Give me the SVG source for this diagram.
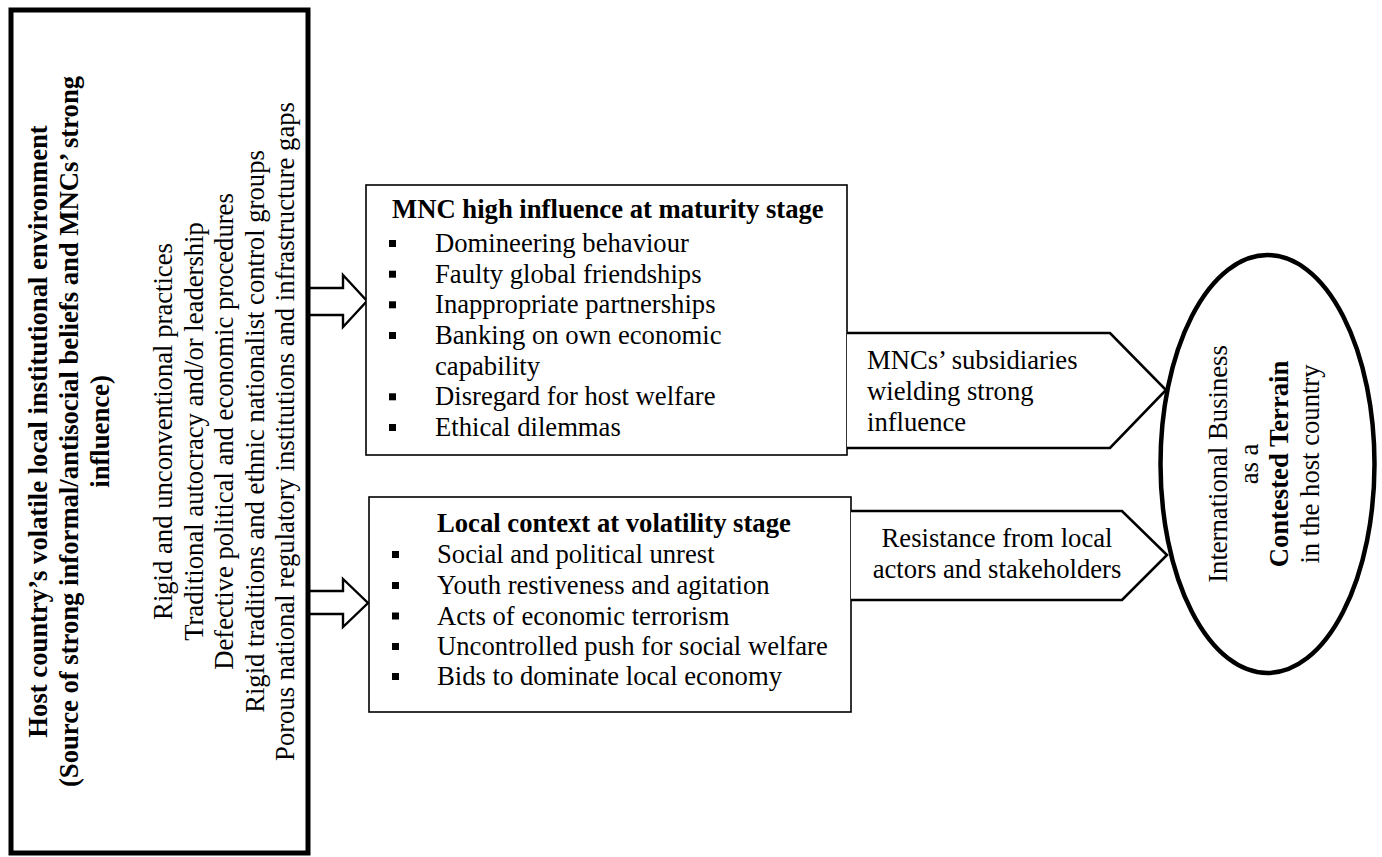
<svg xmlns="http://www.w3.org/2000/svg" xmlns:xlink="http://www.w3.org/1999/xlink" width="1382" height="857" viewBox="0 0 1382 857">
<style>
text{font-family:"Liberation Serif","Times New Roman",serif;font-size:26.67px;fill:#000}
.b{font-weight:bold}
.m{text-anchor:middle}
.box{fill:#fff;stroke:#000;stroke-width:1.6}
.pent{fill:#fff;stroke:#000;stroke-width:2.6}
.arr{fill:#fff;stroke:#000;stroke-width:2.4;stroke-linejoin:miter}
</style>
<defs>
<rect id="bul" width="7" height="7" fill="#000"/>
</defs>
<rect width="1382" height="857" fill="#fff"/>

<g id="connectors">
<path class="arr" d="M310,288 H343 V275 L367,301 L343,327 V315 H310"/>
<path class="arr" d="M310,591 H343 V579 L368,603 L343,627 V614 H310"/>
</g>

<g id="node-host">
<rect x="11" y="10" width="297" height="843" fill="#fff" stroke="#000" stroke-width="5"/>
<g transform="translate(0,431.5) rotate(-90)">
<text class="b m" x="0" y="47">Host country’s volatile local institutional environment</text>
<text class="b m" x="0" y="78">(Source of strong informal/antisocial beliefs and MNCs’ strong</text>
<text class="b m" x="0" y="109">influence)</text>
<text class="m" x="0" y="172">Rigid and unconventional practices</text>
<text class="m" x="0" y="202.5">Traditional autocracy and/or leadership</text>
<text class="m" x="0" y="233">Defective political and economic procedures</text>
<text class="m" x="0" y="263.5">Rigid traditions and ethnic nationalist control groups</text>
<text class="m" x="0" y="294">Porous national regulatory institutions and infrastructure gaps</text>
</g>
</g>

<g id="node-mnc">
<rect class="box" x="366" y="185" width="481" height="270"/>
<text class="b" x="392" y="218">MNC high influence at maturity stage</text>
<use xlink:href="#bul" x="389" y="240"/>
<text x="435" y="252">Domineering behaviour</text>
<use xlink:href="#bul" x="389" y="270.7"/>
<text x="435" y="282.7">Faulty global friendships</text>
<use xlink:href="#bul" x="389" y="301.3"/>
<text x="435" y="313.3">Inappropriate partnerships</text>
<use xlink:href="#bul" x="389" y="332"/>
<text x="435" y="344">Banking on own economic</text>
<text x="435" y="374.7">capability</text>
<use xlink:href="#bul" x="389" y="393.3"/>
<text x="435" y="405.3">Disregard for host welfare</text>
<use xlink:href="#bul" x="389" y="424"/>
<text x="435" y="436">Ethical dilemmas</text>
</g>

<g id="node-local">
<rect class="box" x="369" y="497" width="482" height="215"/>
<text class="b" x="437" y="532">Local context at volatility stage</text>
<use xlink:href="#bul" x="392" y="551"/>
<text x="437" y="563">Social and political unrest</text>
<use xlink:href="#bul" x="392" y="582"/>
<text x="437" y="594">Youth restiveness and agitation</text>
<use xlink:href="#bul" x="392" y="612.5"/>
<text x="437" y="624.5">Acts of economic terrorism</text>
<use xlink:href="#bul" x="392" y="643"/>
<text x="437" y="655">Uncontrolled push for social welfare</text>
<use xlink:href="#bul" x="392" y="673"/>
<text x="437" y="685">Bids to dominate local economy</text>
</g>

<g id="node-subsidiaries">
<path class="pent" d="M847,333 H1110 L1166,390 L1110,448 H847"/>
<text x="867" y="369">MNCs’ subsidiaries</text>
<text x="867" y="400">wielding strong</text>
<text x="867" y="430.5">influence</text>
</g>

<g id="node-resistance">
<path class="pent" d="M851,511 H1122 L1167,555 L1122,600 H851"/>
<text class="m" x="997" y="547">Resistance from local</text>
<text class="m" x="997" y="578">actors and stakeholders</text>
</g>

<g id="node-terrain">
<ellipse cx="1267.5" cy="464" rx="107" ry="209" fill="#fff" stroke="#000" stroke-width="4.5"/>
<g transform="translate(0,464) rotate(-90)">
<text class="m" x="0" y="1227">International Business</text>
<text class="m" x="0" y="1257.5">as a</text>
<text class="b m" x="0" y="1288">Contested Terrain</text>
<text class="m" x="0" y="1318.5">in the host country</text>
</g>
</g>
</svg>
